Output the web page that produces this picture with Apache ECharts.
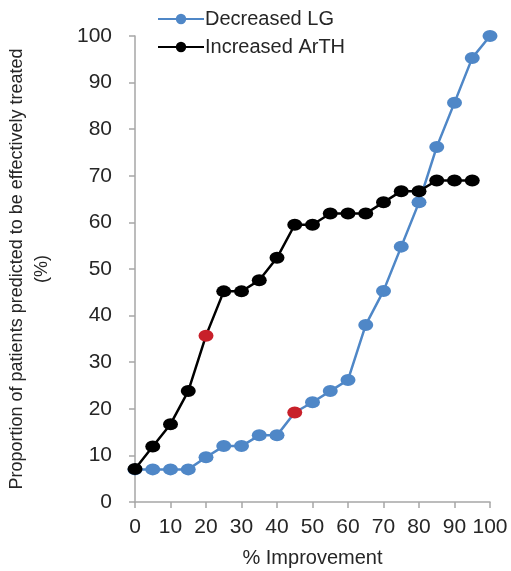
<!DOCTYPE html>
<html>
<head>
<meta charset="utf-8">
<script src="https://cdn.jsdelivr.net/npm/echarts@6/dist/echarts.min.js"></script>
<style>
  html, body { margin: 0; padding: 0; background: #fff; }
  #chart { width: 511px; height: 571px; }
</style>
</head>
<body>
<div id="chart"></div>
<script>
var improvement = [0, 5, 10, 15, 20, 25, 30, 35, 40, 45, 50, 55, 60, 65, 70, 75, 80, 85, 90, 95, 100];
var decreasedLG = [7, 7, 7, 7, 9.6, 12, 12, 14.3, 14.3, 19.2, 21.4, 23.8, 26.2, 38, 45.3, 54.8, 64.3, 76.2, 85.7, 95.3, 100];
var increasedArTH = [7.1, 11.9, 16.7, 23.8, 35.7, 45.2, 45.2, 47.6, 52.4, 59.5, 59.5, 61.9, 61.9, 61.9, 64.3, 66.7, 66.7, 69, 69, 69];
var highlightLG = 45;
var highlightArTH = 20;

var blue = '#4f87c7';
var red = '#c8202a';
var ink = '#262626';
var axisGray = '#a6a6a6';

function points(values, highlightX) {
  return values.map(function(v, i) {
    var p = { value: [improvement[i], v] };
    if (improvement[i] === highlightX) p.itemStyle = { color: red };
    return p;
  });
}

var chart = echarts.init(document.getElementById('chart'), null, { renderer: 'canvas' });
chart.setOption({
  animation: false,
  textStyle: { fontFamily: 'Liberation Sans, Arial, sans-serif' },
  grid: { left: 135, right: 21, top: 36, bottom: 69, outerBoundsMode: 'none', containLabel: false },
  legend: {
    orient: 'vertical',
    left: 152,
    top: 4,
    itemWidth: 46,
    itemHeight: 13,
    itemGap: 8,
    textStyle: { color: ink, fontSize: 20, padding: [0, 0, 0, -4] },
    data: ['Decreased LG', 'Increased ArTH']
  },
  xAxis: {
    type: 'value',
    min: 0, max: 100, interval: 10,
    name: '% Improvement',
    nameLocation: 'middle',
    nameGap: 46,
    nameTextStyle: { color: ink, fontSize: 20 },
    axisLine: { lineStyle: { color: axisGray, width: 1.5 } },
    axisTick: { show: true, length: 6, lineStyle: { color: axisGray, width: 1.5 } },
    axisLabel: { color: ink, fontSize: 21, margin: 15 },
    splitLine: { show: false }
  },
  yAxis: {
    type: 'value',
    min: 0, max: 100, interval: 10,
    name: 'Proportion of patients predicted to be effectively treated\n(%)',
    nameLocation: 'middle',
    nameGap: 80,
    nameRotate: 90,
    nameTextStyle: { color: ink, fontSize: 18, lineHeight: 25, align: 'center' },
    axisLine: { show: true, lineStyle: { color: axisGray, width: 1.5 } },
    axisTick: { show: true, length: 6, lineStyle: { color: axisGray, width: 1.5 } },
    axisLabel: { color: ink, fontSize: 21, margin: 23 },
    splitLine: { show: false }
  },
  series: [
    {
      name: 'Decreased LG',
      type: 'line',
      data: points(decreasedLG, highlightLG),
      symbol: 'circle',
      symbolSize: [15, 12],
      color: blue,
      lineStyle: { color: blue, width: 2.5 },
      itemStyle: { color: blue },
      z: 2
    },
    {
      name: 'Increased ArTH',
      type: 'line',
      data: points(increasedArTH, highlightArTH),
      symbol: 'circle',
      symbolSize: [15, 12],
      color: '#000',
      lineStyle: { color: '#000', width: 2.5 },
      itemStyle: { color: '#000' },
      z: 3
    }
  ]
});
window.addEventListener('resize', function() { chart.resize(); });
</script>
</body>
</html>
